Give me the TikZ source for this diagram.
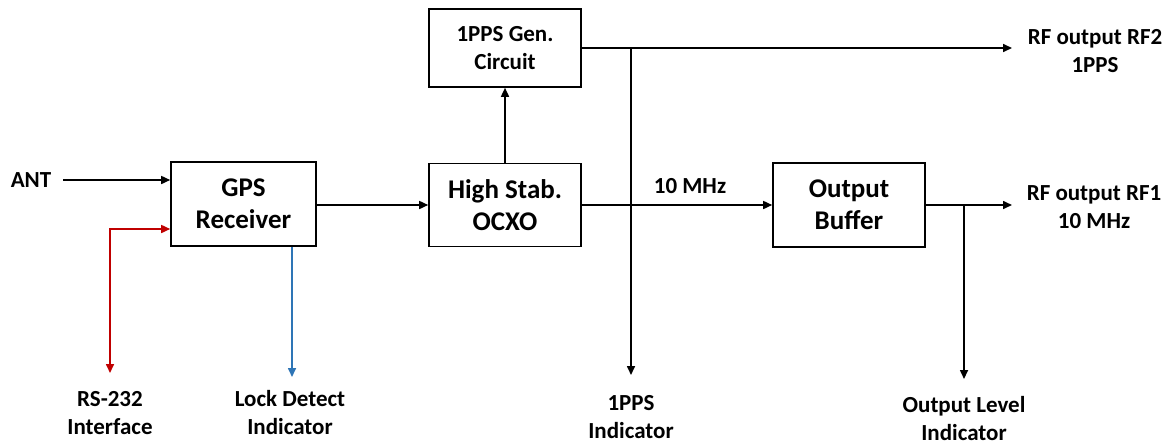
\documentclass[tikz,border=0pt]{standalone}
\usepackage{fontspec}
\setmainfont{Carlito}
\usetikzlibrary{arrows.meta}
\definecolor{rsred}{RGB}{192,0,0}
\definecolor{lkblue}{RGB}{46,117,182}
\begin{document}
\begin{tikzpicture}[x=1pt,y=-1pt,
  blk/.style={draw, line width=1.6pt, font=\bfseries\fontsize{27}{32}\selectfont, align=center, inner sep=0pt},
  lbl/.style={font=\bfseries\fontsize{23}{28}\selectfont, align=center, inner sep=0pt},
  conn/.style={line width=1.6pt, -{Triangle[length=9pt,width=8pt]}},
  wire/.style={line width=1.6pt}]
\useasboundingbox (0,0) rectangle (1174,445);
% blocks
\node[blk, minimum width=145pt, minimum height=84pt] (gps) at (243.5,204) {GPS\\Receiver};
\node[blk, minimum width=152pt, minimum height=78pt, font=\bfseries\fontsize{23}{28}\selectfont] (pps) at (505,48) {1PPS Gen.\\Circuit};
\node[blk, minimum width=152pt, minimum height=83pt] (ocxo) at (505,205) {High Stab.\\OCXO};
\node[blk, minimum width=152pt, minimum height=84pt] (buf) at (849,205) {Output\\Buffer};
% labels
\node[lbl] (ant) at (31,180) {ANT};
\node[lbl] (rs) at (110,413) {RS-232\\Interface};
\node[lbl] (lock) at (290,413) {Lock Detect\\Indicator};
\node[lbl] (ppsi) at (631,417) {1PPS\\Indicator};
\node[lbl] (oli) at (964,419) {Output Level\\Indicator};
\node[lbl] (rf2l) at (1095,51) {RF output RF2\\1PPS};
\node[lbl] (rf1l) at (1094,207) {RF output RF1\\10 MHz};
\node[lbl] (mhz) at (690,186) {10 MHz};
% coordinates
\coordinate (antend) at (63,180);
\coordinate (rsj) at (110,229);
\coordinate (rsend) at (110,373);
\coordinate (lkend) at (292,377);
\coordinate (rf2) at (1012,48);
\coordinate (j1) at (631,48);
\coordinate (ppsend) at (631,375);
\coordinate (rf1) at (1012,205);
\coordinate (j2) at (964,205);
\coordinate (olend) at (964,379);
% connectors
\draw[conn] (antend) -- (gps.west |- antend);
\draw[wire, rsred, {Triangle[length=9pt,width=8pt]}-{Triangle[length=9pt,width=8pt]}] (rsend) -- (rsj) -- (gps.west |- rsj);
\draw[conn, lkblue] (gps.south -| lkend) -- (lkend);
\draw[conn] (gps.east |- ocxo.west) -- (ocxo.west);
\draw[conn] (ocxo.north) -- (pps.south);
\draw[conn] (pps.east) -- (rf2);
\draw[conn] (j1) -- (ppsend);
\draw[conn] (ocxo.east |- buf.west) -- (buf.west);
\draw[conn] (buf.east) -- (rf1);
\draw[conn] (j2) -- (olend);
\end{tikzpicture}
\end{document}
